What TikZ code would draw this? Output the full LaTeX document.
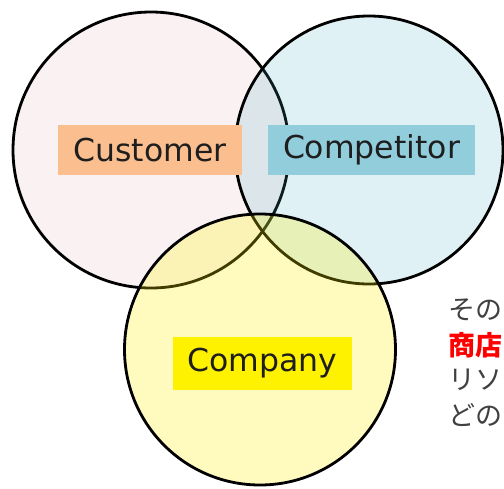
\documentclass[tikz,border=0pt]{standalone}
\usepackage{fontspec}
\setmainfont{DejaVu Sans}
\newfontfamily\jpfont{Noto Sans CJK JP}
\definecolor{custfill}{RGB}{192,80,77}
\definecolor{compfill}{RGB}{75,172,198}
\definecolor{custlabel}{RGB}{250,190,143}
\definecolor{complabel}{RGB}{146,205,220}
\definecolor{labeltext}{RGB}{30,30,30}
\definecolor{jpgray}{RGB}{64,64,64}
\definecolor{jpred}{RGB}{255,0,0}
\begin{document}
\begin{tikzpicture}[x=1pt,y=-1pt,
  ring/.style={circle,draw=black,line width=2.8pt,inner sep=0pt},
  tag/.style={rectangle,inner sep=0pt,text=labeltext,
    font=\fontsize{31.5}{36}\selectfont},
  jpline/.style={anchor=west,inner sep=0pt,text=jpgray,
    font=\jpfont\fontsize{27}{30}\selectfont}]
\useasboundingbox (0,0) rectangle (504,488);
\clip (0,0) rectangle (504,488);
\fill[white] (0,0) rectangle (504,488);

% the three overlapping circles
\node[ring,fill=custfill,fill opacity=0.07,minimum size=276pt] (customer) at (151,150) {};
\node[ring,fill=compfill,fill opacity=0.17,minimum size=268pt] (competitor) at (369,150) {};
\node[ring,fill=yellow,fill opacity=0.25,minimum size=271pt] (company) at (260,349.5) {};

% labels
\node[tag,fill=custlabel,minimum width=184pt,minimum height=50pt] (customerlabel) at (150,150) {Customer};
\node[tag,fill=complabel,minimum width=207pt,minimum height=50pt] (competitorlabel) at (371.5,150) {Competitor};
\node[tag,fill=yellow,minimum width=179pt,minimum height=53pt] (companylabel) at (262.5,363.5) {Company};

% side note
\node[jpline] (note1) at (448,310) {その};
\node[jpline,text=jpred,font=\jpfont\bfseries\fontsize{27}{30}\selectfont] (note2) at (448,345) {商店};
\node[jpline] (note3) at (448,380) {リソ};
\node[jpline] (note4) at (448,415) {どの};
\end{tikzpicture}
\end{document}
